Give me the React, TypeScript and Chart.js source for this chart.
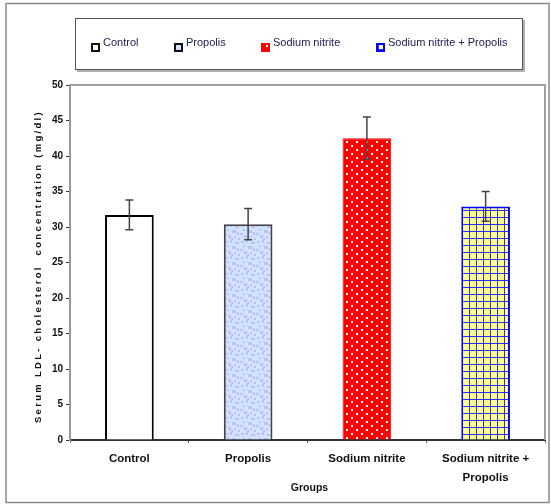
import React, { useEffect, useRef } from "react";
import { Chart, registerables } from "chart.js";

Chart.register(...registerables);

const categories: (string | string[])[] = ["Control", "Propolis", "Sodium nitrite", ["Sodium nitrite +", "Propolis"]];
const legendNames = ["Control", "Propolis", "Sodium nitrite", "Sodium nitrite + Propolis"];
const ldlMeans = [31.7, 30.4, 42.5, 32.9];
const ldlErrors = [2.1, 2.2, 3.0, 2.1];
const yMin = 0;
const yMax = 50;
const yStep = 5;
const yTitle = "Serum LDL- cholesterol  concentration (mg/dl)";
const xTitle = "Groups";

function makeTile(w: number, h: number, draw: (c: CanvasRenderingContext2D) => void) {
  const cv = document.createElement("canvas");
  cv.width = w;
  cv.height = h;
  const c = cv.getContext("2d")!;
  draw(c);
  return cv;
}

function buildFills(ctx: CanvasRenderingContext2D) {
  const propolisTile = makeTile(16, 16, (c) => {
    c.fillStyle = "#cfe4ff";
    c.fillRect(0, 0, 16, 16);
    c.fillStyle = "#c4bcf6";
    const blobs = [
      [1, 1, 3, 2], [6, 0, 2, 3], [11, 2, 4, 2], [3, 5, 2, 2], [8, 6, 4, 3],
      [0, 9, 3, 2], [13, 8, 2, 3], [4, 11, 3, 3], [10, 12, 2, 2], [14, 14, 2, 2],
      [7, 14, 2, 2],
    ];
    blobs.forEach(([x, y, w, h]) => c.fillRect(x, y, w, h));
    c.fillStyle = "#e6ecf6";
    [[5, 2, 1, 1], [12, 5, 1, 1], [2, 13, 1, 1], [9, 10, 1, 1]].forEach(([x, y, w, h]) => c.fillRect(x, y, w, h));
  });
  const redTile = makeTile(10, 8, (c) => {
    c.fillStyle = "#ff0000";
    c.fillRect(0, 0, 10, 8);
    c.fillStyle = "#ffffff";
    c.fillRect(1, 1, 2, 2);
    c.fillRect(6, 5, 2, 2);
  });
  const gridTile = makeTile(7, 7, (c) => {
    c.fillStyle = "#ffff88";
    c.fillRect(0, 0, 7, 7);
    c.fillStyle = "#2a2aff";
    c.fillRect(0, 0, 7, 1);
    c.fillRect(0, 0, 1, 7);
  });
  return [
    "#ffffff",
    ctx.createPattern(propolisTile, "repeat")!,
    ctx.createPattern(redTile, "repeat")!,
    ctx.createPattern(gridTile, "repeat")!,
  ];
}

const barBorders = ["#000000", "#444444", "#ff0000", "#0000ff"];
const barBorderWidths = [2, 2, 1, 2];

const errorBarPlugin = {
  id: "errorBars",
  afterDatasetsDraw(chart: any) {
    const { ctx } = chart;
    const y = chart.scales.y;
    const meta = chart.getDatasetMeta(0);
    ctx.save();
    ctx.strokeStyle = "#444444";
    ctx.lineWidth = 1.5;
    meta.data.forEach((el: any, i: number) => {
      const x = el.x;
      const t = y.getPixelForValue(ldlMeans[i] + ldlErrors[i]);
      const b = y.getPixelForValue(ldlMeans[i] - ldlErrors[i]);
      ctx.beginPath();
      ctx.moveTo(x, t);
      ctx.lineTo(x, b);
      ctx.moveTo(x - 4, t);
      ctx.lineTo(x + 4, t);
      ctx.moveTo(x - 4, b);
      ctx.lineTo(x + 4, b);
      ctx.stroke();
    });
    ctx.restore();
  },
};

const framePlugin = {
  id: "frame",
  beforeDraw(chart: any) {
    const { ctx, width, height } = chart;
    ctx.save();
    ctx.fillStyle = "#ffffff";
    ctx.fillRect(0, 0, width, height);
    ctx.restore();
  },
  afterDraw(chart: any) {
    const { ctx, chartArea } = chart;
    const { left, top, right, bottom } = chartArea;
    ctx.save();
    // outer border
    ctx.strokeStyle = "#8a8a8a";
    ctx.lineWidth = 1.5;
    ctx.strokeRect(6, 3.5, 543, 499);
    // plot frame top/right
    ctx.strokeStyle = "#a0a0a0";
    ctx.lineWidth = 2;
    ctx.beginPath();
    ctx.moveTo(left, top);
    ctx.lineTo(right, top);
    ctx.lineTo(right, bottom);
    ctx.stroke();

    // legend box with shadow
    ctx.fillStyle = "#b0b0b0";
    ctx.fillRect(77, 70, 448, 2);
    ctx.fillRect(523, 20, 2, 52);
    ctx.fillStyle = "#ffffff";
    ctx.fillRect(75, 18, 448, 52);
    ctx.strokeStyle = "#555555";
    ctx.lineWidth = 1;
    ctx.strokeRect(75.5, 18.5, 447, 51);

    const markerX = [92, 175, 262, 377];
    const fills = chart.data.datasets[0].backgroundColor;
    ctx.font = "11px 'Liberation Sans', Arial, sans-serif";
    ctx.textBaseline = "middle";
    ctx.textAlign = "left";
    legendNames.forEach((name, i) => {
      const mx = markerX[i];
      ctx.fillStyle = fills[i];
      ctx.fillRect(mx, 44, 7, 7);
      ctx.strokeStyle = i === 2 ? "#ff0000" : i === 3 ? "#0000ff" : "#111111";
      ctx.lineWidth = 2;
      ctx.strokeRect(mx, 44, 7, 7);
      ctx.fillStyle = "#222255";
      ctx.fillText(name, mx + 11, 43);
    });

    // axis titles
    ctx.fillStyle = "#111111";
    ctx.font = "bold 10.5px 'Liberation Sans', Arial, sans-serif";
    ctx.textAlign = "center";
    ctx.textBaseline = "middle";
    ctx.fillText(xTitle, (left + right) / 2 + 2, 488);

    ctx.save();
    ctx.translate(38, (top + bottom) / 2 + 4);
    ctx.rotate(-Math.PI / 2);
    (ctx as any).letterSpacing = "2.3px";
    ctx.font = "bold 9.5px 'Liberation Sans', Arial, sans-serif";
    ctx.fillText(yTitle, 0, 0);
    ctx.restore();
    ctx.restore();
  },
};

export default function App() {
  const ref = useRef<HTMLCanvasElement | null>(null);
  useEffect(() => {
    const canvas = ref.current!;
    const ctx = canvas.getContext("2d")!;
    const fills = buildFills(ctx);
    const chart = new Chart(canvas, {
      type: "bar",
      data: {
        labels: categories as any,
        datasets: [
          {
            data: ldlMeans,
            backgroundColor: fills as any,
            borderColor: barBorders,
            borderWidth: barBorderWidths,
            barPercentage: 0.41,
            categoryPercentage: 1,
          },
        ],
      },
      options: {
        responsive: false,
        animation: false,
        layout: { padding: { left: 0, top: 85, right: 6, bottom: 0 } },
        plugins: { legend: { display: false }, tooltip: { enabled: false } },
        scales: {
          x: {
            type: "category",
            offset: true,
            grid: { offset: true, drawOnChartArea: false, drawTicks: true, tickLength: 3, color: "#666666", lineWidth: 1 },
            border: { display: true, color: "#333333", width: 2 },
            ticks: {
              color: "#111111",
              font: { family: "'Liberation Sans', Arial, sans-serif", size: 11.5, weight: "bold", lineHeight: 1.6 },
              padding: 7,
              maxRotation: 0,
              autoSkip: false,
            },
            afterFit(scale: any) {
              scale.height = 64;
            },
          },
          y: {
            min: yMin,
            max: yMax,
            grid: { drawOnChartArea: false, drawTicks: true, tickLength: 4, color: "#333333", lineWidth: 1 },
            border: { display: true, color: "#999999", width: 2 },
            ticks: {
              stepSize: yStep,
              color: "#111111",
              font: { family: "'Liberation Sans', Arial, sans-serif", size: 10, weight: "bold" },
              padding: 3,
            },
            afterFit(scale: any) {
              scale.width = 70;
            },
          },
        },
      },
      plugins: [framePlugin, errorBarPlugin],
    });
    return () => chart.destroy();
  }, []);
  return (
    <div style={{ position: "absolute", left: 0, top: 0, width: 551, height: 504, background: "#fff" }}>
      <canvas ref={ref} width={551} height={504} style={{ display: "block" }} />
    </div>
  );
}
